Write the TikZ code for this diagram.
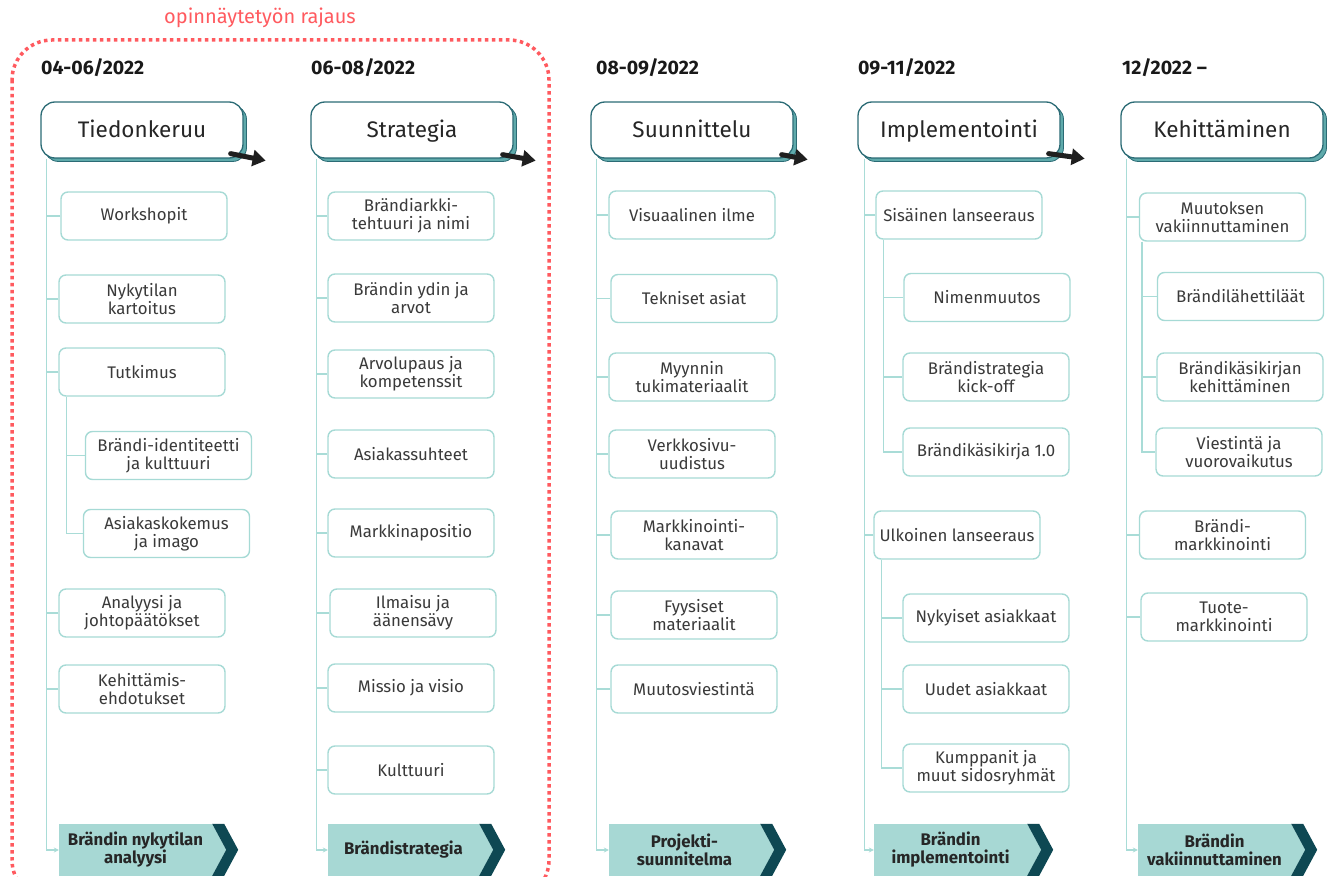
\documentclass[tikz,border=0pt]{standalone}
\usepackage{fontspec}
\setmainfont{Fira Sans}
\usetikzlibrary{arrows.meta,calc,shadows}

\definecolor{itemc}{HTML}{A6DAD5}
\definecolor{linec}{HTML}{A9DCD7}
\definecolor{headc}{HTML}{2B6B75}
\definecolor{headsh}{HTML}{5FAAAB}
\definecolor{chevlight}{HTML}{A7D8D4}
\definecolor{chevdark}{HTML}{0E4853}
\definecolor{txt}{HTML}{3A3A3A}
\definecolor{scopered}{HTML}{FF5A5F}

\tikzset{
  item/.style={draw=itemc, line width=1.4pt, rounded corners=7pt, fill=white,
    minimum width=166pt, minimum height=48pt, align=center, inner sep=2pt,
    text=txt, font=\fontsize{16.8}{18}\selectfont},
  head/.style={draw=headc, line width=1.3pt, rounded corners=14pt, fill=white,
    minimum width=202pt, minimum height=56pt, text=black!85,
    text height=18pt, text depth=2pt,
    font=\fontsize{22.5}{25}\selectfont,
    copy shadow={shadow xshift=3.5pt, shadow yshift=-3.5pt, fill=headsh, draw=headc, line width=0.8pt}},
  datelbl/.style={anchor=west, inner sep=0pt, font=\bfseries\fontsize{19.5}{22}\selectfont, text=black!90},
  chevbox/.style={fill=chevlight, minimum height=52pt, inner sep=0pt, align=center,
    text=black!85, font=\bfseries\fontsize{16.8}{18}\selectfont},
  trunk/.style={draw=linec, line width=1.4pt},
  endarrow/.style={trunk, -{Stealth[length=5pt,width=5pt]}},
  brush/.style={draw=black!88, line width=5pt, line cap=round,
    -{Triangle[length=13pt,width=16pt]}},
}

% a light box with a dark chevron on its right end
\newcommand{\Chevron}[4]{%
  \node[chevbox, minimum width={#3-#2}] (#1) at ({(#2+#3)/2},850) {#4};
  \fill[chevlight] (#1.north east) -- ++(14,26) -- (#1.south east) -- cycle;
  \fill[chevdark] (#1.north east) -- ++(12,0) -- ++(14,26) -- ++(-14,26)
    -- ++(-12,0) -- ++(14,-26) -- cycle;
}

\begin{document}
\begin{tikzpicture}[x=1pt,y=-1pt]
\useasboundingbox (0,0) rectangle (1333,877);
\clip (0,0) rectangle (1333,877);

% thesis scope frame
\draw[scopered, line width=3.5pt, dash pattern=on 3.5pt off 3.5pt, rounded corners=40pt]
  (12,40) rectangle (549,900);
\node[text=scopered, font=\fontsize{20}{22}\selectfont] (scope) at (260,18) {opinnäytetyön rajaus};

% periods
\node[datelbl] (d1) at (41,68) {04-06/2022};
\node[datelbl] (d2) at (311,68) {06-08/2022};
\node[datelbl] (d3) at (596,68) {08-09/2022};
\node[datelbl] (d4) at (858,68) {09-11/2022};
\node[datelbl] (d5) at (1122,68) {12/2022 –};

% phase headers
\node[head] (h1) at (142,130) {Tiedonkeruu};
\node[head] (h2) at (412,130) {Strategia};
\node[head] (h3) at (692,130) {Suunnittelu};
\node[head] (h4) at (959,130) {Implementointi};
\node[head] (h5) at (1222,130) {Kehittäminen};

% arrows between phases
\draw[brush] ($(h1.south east)+(-13,-5)$) -- ($(h1.south east)+(22,2)$);
\draw[brush] ($(h2.south east)+(-11,-4)$) -- ($(h2.south east)+(22,2)$);
\draw[brush] ($(h3.south east)+(-12,-4)$) -- ($(h3.south east)+(14,1)$);
\draw[brush] ($(h4.south east)+(-12,-5)$) -- ($(h4.south east)+(24,0)$);

% result chevrons
\Chevron{c1}{59}{212}{Brändin nykytilan\\analyysi}
\Chevron{c2}{328}{479}{Brändistrategia}
\Chevron{c3}{609}{760}{Projekti-\\suunnitelma}
\Chevron{c4}{874}{1027}{Brändin\\implementointi}
\Chevron{c5}{1138}{1291}{Brändin\\vakiinnuttaminen}

% trunk positions
\coordinate (t1) at ([xshift=6pt]h1.south west);
\coordinate (t2) at ([xshift=6pt]h2.south west);
\coordinate (t3) at ([xshift=6pt]h3.south west);
\coordinate (t4) at ([xshift=7pt]h4.south west);
\coordinate (t5) at ([xshift=6pt]h5.south west);

% trunks ending in the chevrons
\draw[endarrow] (t1) |- (c1.west);
\draw[endarrow] (t2) |- (c2.west);
\draw[endarrow] (t3) |- (c3.west);
\draw[endarrow] (t4) |- (c4.west);
\draw[endarrow] (t5) |- (c5.west);

% column 1
\node[item] (i11) at (144,216) {Workshopit};
\node[item] (i12) at (142,299) {Nykytilan\\kartoitus};
\node[item] (i13) at (142,372) {Tutkimus};
\node[item] (i14) at (168.5,455.5) {Brändi-identiteetti\\ja kulttuuri};
\node[item] (i15) at (166.5,533.5) {Asiakaskokemus\\ja imago};
\node[item] (i16) at (142,613) {Analyysi ja\\johtopäätökset};
\node[item] (i17) at (142,689) {Kehittämis-\\ehdotukset};
\foreach \n in {i11,i12,i13,i16,i17} \draw[trunk] (\n.west) -- (\n.west -| t1);
\coordinate (s13) at ([xshift=8pt]i13.south west);
\draw[trunk] (s13) |- (i15.west);
\draw[trunk] (i14.west) -- (i14.west -| s13);

% column 2
\node[item] (i21) at (411,216) {Brändiarkki-\\tehtuuri ja nimi};
\node[item] (i22) at (411,298) {Brändin ydin ja\\arvot};
\node[item] (i23) at (411,374) {Arvolupaus ja\\kompetenssit};
\node[item] (i24) at (411,454) {Asiakassuhteet};
\node[item] (i25) at (411,533) {Markkinapositio};
\node[item] (i26) at (413,613) {Ilmaisu ja\\äänensävy};
\node[item] (i27) at (411,688) {Missio ja visio};
\node[item] (i28) at (411,770) {Kulttuuri};
\foreach \n in {i21,i22,i23,i24,i25,i26,i27,i28} \draw[trunk] (\n.west) -- (\n.west -| t2);

% column 3
\node[item] (i31) at (692,215) {Visuaalinen ilme};
\node[item] (i32) at (694,298.5) {Tekniset asiat};
\node[item] (i33) at (692,377) {Myynnin\\tukimateriaalit};
\node[item] (i34) at (692,454) {Verkkosivu-\\uudistus};
\node[item] (i35) at (694,535) {Markkinointi-\\kanavat};
\node[item] (i36) at (694,615) {Fyysiset\\materiaalit};
\node[item] (i37) at (694,689) {Muutosviestintä};
\foreach \n in {i31,i32,i33,i34,i35,i36,i37} \draw[trunk] (\n.west) -- (\n.west -| t3);

% column 4
\node[item] (i41) at (959,215) {Sisäinen lanseeraus};
\node[item] (i42) at (987,297.5) {Nimenmuutos};
\node[item] (i43) at (986,377) {Brändistrategia\\kick-off};
\node[item] (i44) at (986,452) {Brändikäsikirja 1.0};
\node[item] (i45) at (957,535) {Ulkoinen lanseeraus};
\node[item] (i46) at (986,618) {Nykyiset asiakkaat};
\node[item] (i47) at (986,689) {Uudet asiakkaat};
\node[item] (i48) at (986,768) {Kumppanit ja\\muut sidosryhmät};
\foreach \n in {i41,i45} \draw[trunk] (\n.west) -- (\n.west -| t4);
\coordinate (s41) at ([xshift=8pt]i41.south west);
\draw[trunk] (s41) |- (i44.west);
\foreach \n in {i42,i43} \draw[trunk] (\n.west) -- (\n.west -| s41);
\coordinate (s45) at ([xshift=8pt]i45.south west);
\draw[trunk] (s45) |- (i48.west);
\foreach \n in {i46,i47} \draw[trunk] (\n.west) -- (\n.west -| s45);

% column 5
\node[item] (i51) at (1222.5,217) {Muutoksen\\vakiinnuttaminen};
\node[item] (i52) at (1240.5,296.5) {Brändilähettiläät};
\node[item] (i53) at (1240,377) {Brändikäsikirjan\\kehittäminen};
\node[item] (i54) at (1239,452) {Viestintä ja\\vuorovaikutus};
\node[item] (i55) at (1222.5,535) {Brändi-\\markkinointi};
\node[item] (i56) at (1224,617) {Tuote-\\markkinointi};
\foreach \n in {i51,i55,i56} \draw[trunk] (\n.west) -- (\n.west -| t5);
\coordinate (s51) at ([xshift=3pt]i51.south west);
\draw[trunk] (s51) |- (i54.west);
\foreach \n in {i52,i53} \draw[trunk] (\n.west) -- (\n.west -| s51);

\end{tikzpicture}
\end{document}
